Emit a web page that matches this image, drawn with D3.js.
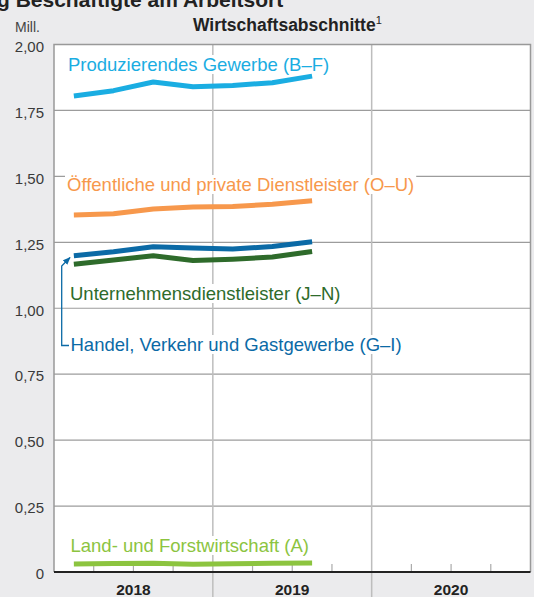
<!DOCTYPE html>
<html><head><meta charset="utf-8">
<script src="https://cdn.jsdelivr.net/npm/d3@7"></script>
<style>
html,body{margin:0;padding:0;background:#ebebed;}
svg{display:block;font-family:"Liberation Sans",Arial,Helvetica,sans-serif;}
</style></head>
<body><svg id="c" width="534" height="597"></svg>
<script>
// ---- data ----
const quarters = ["2018 Q1","2018 Q2","2018 Q3","2018 Q4","2019 Q1","2019 Q2","2019 Q3"];
const years = ["2018","2019","2020"];
const yTicks = [0,0.25,0.5,0.75,1.0,1.25,1.5,1.75,2.0];
const produzierend = [1.805,1.825,1.858,1.840,1.845,1.855,1.880];
const oeffentlich  = [1.354,1.358,1.376,1.384,1.386,1.394,1.408];
const handel       = [1.199,1.214,1.233,1.228,1.225,1.234,1.252];
const unternehmen  = [1.167,1.183,1.199,1.181,1.186,1.194,1.215];
const land         = [0.030,0.032,0.033,0.029,0.031,0.033,0.034];
const seriesNames = ["Produzierendes Gewerbe (B–F)","Öffentliche und private Dienstleister (O–U)","Unternehmensdienstleister (J–N)","Handel, Verkehr und Gastgewerbe (G–I)","Land- und Forstwirtschaft (A)"];
const seriesColors = ["#1aade2","#f7984c","#0b6aa6","#2e6b2b","#8cc43f"];

const series = [produzierend, oeffentlich, unternehmen, handel, land];
const seriesOrder = [0,1,2,3,4];

const svg = d3.select("#c");
const L=54, R=530.5, T=44.5, B=572;
const nQ = 12;
const x = d3.scaleLinear().domain([0,nQ]).range([L,R]);
const y = d3.scaleLinear().domain([0,2]).range([B,T]);
const de = d3.formatLocale({decimal:",",thousands:".",grouping:[3],currency:["","€"]});
const fmt = de.format(".2f");

// plot background
svg.append("rect").attr("x",L).attr("y",T).attr("width",R-L).attr("height",B-T).attr("fill","#fff");

// horizontal gridlines
svg.append("g").selectAll("line").data(yTicks.filter(d=>d>0&&d<2)).join("line")
  .attr("x1",L).attr("x2",R).attr("y1",d=>y(d)).attr("y2",d=>y(d))
  .attr("stroke","#9c9c9c").attr("stroke-width",1.2);

// year divider lines
svg.append("g").selectAll("line").data([4,8]).join("line")
  .attr("x1",d=>x(d)).attr("x2",d=>x(d)).attr("y1",T).attr("y2",597)
  .attr("stroke","#bdbdbd").attr("stroke-width",1.5);

// quarter ticks
svg.append("g").selectAll("line").data(d3.range(1,12).filter(d=>d%4!==0)).join("line")
  .attr("x1",d=>x(d)).attr("x2",d=>x(d)).attr("y1",B-8).attr("y2",B)
  .attr("stroke","#aaa").attr("stroke-width",1.2);

// border (left, top, right)
svg.append("path").attr("d",`M${L},${B}V${T}H${R}V${B}`).attr("fill","none")
  .attr("stroke","#999").attr("stroke-width",1.5);

// y axis labels
const yAxis = d3.axisLeft(y).tickValues(yTicks).tickSize(0).tickPadding(10)
  .tickFormat(d=>d===0?"0":fmt(d));
const ya = svg.append("g").attr("transform",`translate(${L},0)`).call(yAxis);
ya.select(".domain").remove();
ya.selectAll("text").attr("font-size","15px").attr("fill","#3a3a3a")
  .attr("font-family","'Liberation Sans',Arial,sans-serif").attr("dy","0.45em");

// year labels
svg.append("g").selectAll("text").data(years).join("text")
  .attr("x",(d,i)=>x(i*4+2)).attr("y",595).attr("text-anchor","middle")
  .attr("font-size","15.5px").attr("font-weight","bold").attr("fill","#222").text(d=>d);

// label helper with white backing
function label(txt,xx,yy,color){
  const g=svg.append("g");
  const r=g.append("rect").attr("fill","#fff");
  const t=g.append("text").attr("x",xx).attr("y",yy).attr("font-size","18.5px").attr("fill",color).text(txt);
  const b=t.node().getBBox();
  r.attr("x",b.x-2).attr("y",b.y+1).attr("width",b.width+4).attr("height",b.height-2);
  return g;
}

// lines
const line = d3.line().x((d,i)=>x(i+0.5)).y(d=>y(d)).curve(d3.curveLinear);

// labels first (backgrounds hide gridlines), then lines
label(seriesNames[0],68,71,seriesColors[0]);
label(seriesNames[1],67,191,seriesColors[1]);
label(seriesNames[2],70,300,seriesColors[3]);
label(seriesNames[3],70.5,351,seriesColors[2]);
label(seriesNames[4],70.5,552,seriesColors[4]);

const sColors=[seriesColors[0],seriesColors[1],seriesColors[3],seriesColors[2],seriesColors[4]];
svg.append("g").selectAll("path").data(series).join("path")
  .attr("d",d=>line(d)).attr("fill","none")
  .attr("stroke",(d,i)=>sColors[i]).attr("stroke-width",5)
  .attr("stroke-linejoin","round");

// bottom axis line
svg.append("line").attr("x1",L).attr("x2",R).attr("y1",B).attr("y2",B)
  .attr("stroke","#222").attr("stroke-width",2);

// leader line for Handel
const defs=svg.append("defs");
defs.append("marker").attr("id","ah").attr("viewBox","0 0 10 10").attr("refX",9).attr("refY",5)
  .attr("markerWidth",6).attr("markerHeight",6).attr("orient","auto")
  .append("path").attr("d","M0,1L10,5L0,9Z").attr("fill",seriesColors[2]);
svg.append("path").attr("d","M69,345.5H61.7V266L70,257.5").attr("fill","none")
  .attr("stroke",seriesColors[2]).attr("stroke-width",1.3).attr("marker-end","url(#ah)");

// titles
svg.append("text").attr("x",-3).attr("y",7).attr("font-size","21px").attr("font-weight","bold")
  .attr("fill","#222").text("g Beschäftigte am Arbeitsort");
const tt=svg.append("text").attr("x",193).attr("y",31).attr("font-size","17.5px").attr("font-weight","bold").attr("fill","#222");
tt.append("tspan").text("Wirtschaftsabschnitte");
tt.append("tspan").attr("font-size","11px").attr("font-weight","normal").attr("dy","-7").text("1");
svg.append("text").attr("x",15).attr("y",32).attr("font-size","14px").attr("fill","#444").text("Mill.");
</script></body></html>
